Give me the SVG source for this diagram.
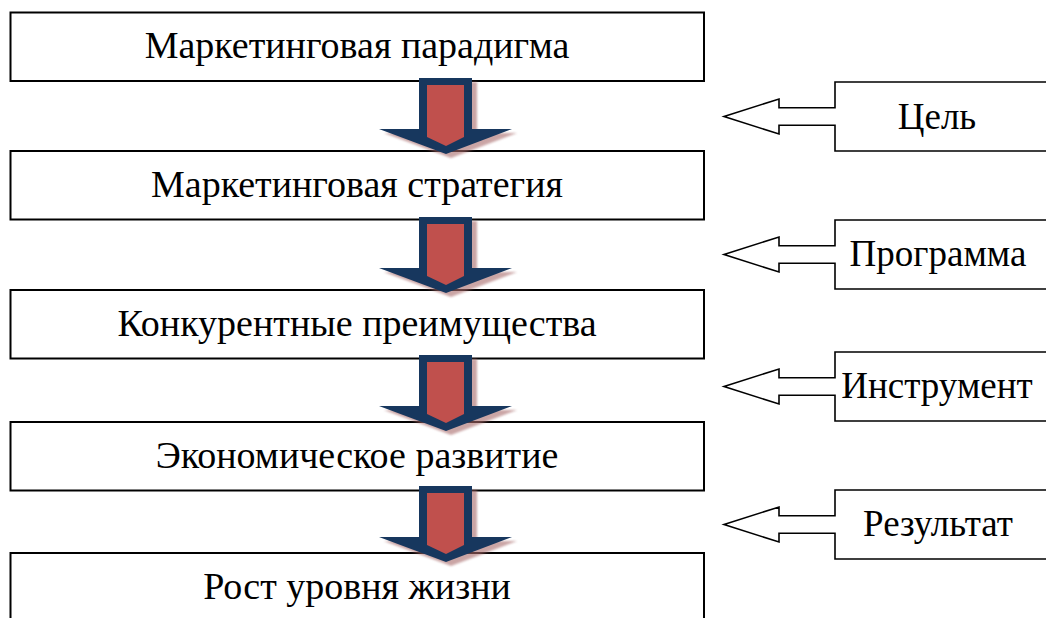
<svg xmlns="http://www.w3.org/2000/svg" width="1046" height="618" viewBox="0 0 1046 618">
  <defs>
    <style>
      .box { fill: #ffffff; stroke: #000000; stroke-width: 2; }
      .callout { fill: #ffffff; stroke: #000000; stroke-width: 1.6; stroke-linejoin: miter; }
      text { font-family: 'Liberation Serif', 'Times New Roman', 'DejaVu Serif', serif; fill: #000000; text-anchor: middle; }
      .label { font-size: 38px; }
      .side { font-size: 37px; }
      .shadow { fill: #a86a6a; opacity: 0.6; }
      .outer { fill: #17375e; }
      .inner { fill: #c0504d; }
    </style>
    <filter id="soft" x="-20%" y="-20%" width="140%" height="140%">
      <feGaussianBlur stdDeviation="1"/>
    </filter>
    <!-- block arrow pointing down, origin at top-centre of the shaft -->
    <g id="downArrow">
      <polygon class="shadow" filter="url(#soft)" points="-22,4 31,4 31,55 71,55 5,80 -62,55 -22,55"/>
      <polygon class="outer" points="-27,0 26,0 26,51 66,51 0,76 -67,51 -27,51"/>
      <polygon class="inner" points="-19,7 18,7 18,59 0,68 -19,59"/>
    </g>
  </defs>

  <!-- main chain of boxes -->
  <g id="node-paradigm">
    <rect class="box" x="10.5" y="12.5" width="693.5" height="68.5"/>
    <text class="label" x="357" y="58">Маркетинговая парадигма</text>
  </g>
  <g id="node-strategy">
    <rect class="box" x="10.5" y="151" width="693.5" height="68.5"/>
    <text class="label" x="357" y="197">Маркетинговая стратегия</text>
  </g>
  <g id="node-advantages">
    <rect class="box" x="10.5" y="290" width="693.5" height="68.5"/>
    <text class="label" x="357" y="336">Конкурентные преимущества</text>
  </g>
  <g id="node-economy">
    <rect class="box" x="10.5" y="422" width="693.5" height="68.5"/>
    <text class="label" x="357" y="468">Экономическое развитие</text>
  </g>
  <g id="node-living">
    <rect class="box" x="10.5" y="553" width="693.5" height="80"/>
    <text class="label" x="357" y="599">Рост уровня жизни</text>
  </g>

  <!-- side callouts with hollow arrows pointing left -->
  <g id="node-goal">
    <path class="callout" d="M835,82 H1052 V151 H835 V125.2 H779 V134 L724,116.5 L779,99 V107.8 H835 Z"/>
    <text class="side" x="937" y="129">Цель</text>
  </g>
  <g id="node-program">
    <path class="callout" d="M835,220 H1052 V289 H835 V263.2 H779 V272 L724,254.5 L779,237 V245.8 H835 Z"/>
    <text class="side" x="938" y="266">Программа</text>
  </g>
  <g id="node-tool">
    <path class="callout" d="M835,352 H1052 V421 H835 V395.2 H779 V404 L724,386.5 L779,369 V377.8 H835 Z"/>
    <text class="side" x="937" y="398">Инструмент</text>
  </g>
  <g id="node-result">
    <path class="callout" d="M835,490 H1052 V559 H835 V533.2 H779 V542 L724,524.5 L779,507 V515.8 H835 Z"/>
    <text class="side" x="938" y="536">Результат</text>
  </g>

  <!-- connectors: block arrows between the main boxes -->
  <g id="connectors">
    <use href="#downArrow" x="446" y="78"/>
    <use href="#downArrow" x="446" y="217"/>
    <use href="#downArrow" x="446" y="355"/>
    <use href="#downArrow" x="446" y="486"/>
  </g>
</svg>
